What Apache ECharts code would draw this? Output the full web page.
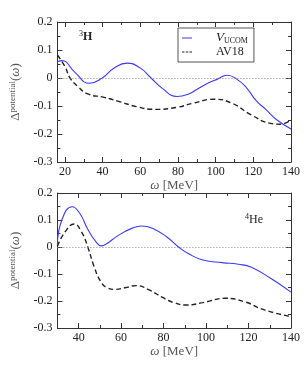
<!DOCTYPE html>
<html><head><meta charset="utf-8">
<script src="https://cdn.jsdelivr.net/npm/echarts@6/dist/echarts.min.js"></script>
<style>html,body{margin:0;padding:0;background:#fff}#c{width:304px;height:367px}</style>
</head><body><div id="c"></div>
<script>
// Top panel (3H)
const topUcomX = [16, 18.4, 25.3, 33, 39.8, 46, 53, 59.7, 65.7, 71.7, 79.5, 85.4, 90.2, 95.8, 100.9, 106.1, 111.2, 116.3, 121.5, 126.6, 132.6, 140];
const topUcomY = [0.058, 0.062, 0.020, -0.019, 0.000, 0.035, 0.053, 0.037, 0.000, -0.037, -0.066, -0.058, -0.040, -0.019, -0.004, 0.010, -0.004, -0.034, -0.081, -0.112, -0.150, -0.182];
const topAv18X = [16, 20.1, 22.7, 27, 32.1, 40.7, 49.3, 57.8, 68.1, 79.3, 88, 99.2, 108.6, 118.9, 129.2, 134.3, 140];
const topAv18Y = [0.082, 0.040, 0.000, -0.031, -0.057, -0.069, -0.085, -0.102, -0.112, -0.105, -0.090, -0.076, -0.090, -0.132, -0.162, -0.165, -0.150];
// Bottom panel (4He)
const botUcomX = [30, 32.1, 37, 40.5, 44.3, 48.1, 50.7, 52.8, 58.9, 65, 69.6, 75.6, 81.7, 87, 92, 98.5, 107.6, 115.2, 121.3, 130.4, 140];
const botUcomY = [0.007, 0.100, 0.149, 0.125, 0.066, 0.020, 0.004, 0.010, 0.044, 0.069, 0.078, 0.066, 0.036, 0.000, -0.026, -0.048, -0.058, -0.064, -0.075, -0.116, -0.167];
const botAv18X = [30, 33.7, 37.9, 41.3, 44.3, 47.3, 50.4, 53.4, 57.2, 61.8, 67.1, 73.2, 79.3, 84.8, 90.8, 98.5, 109.1, 118.2, 127.4, 140];
const botAv18Y = [0.003, 0.057, 0.085, 0.057, 0.000, -0.073, -0.128, -0.151, -0.157, -0.151, -0.143, -0.159, -0.186, -0.206, -0.215, -0.206, -0.190, -0.203, -0.233, -0.258];
const yTicks = [-0.3, -0.2, -0.1, 0, 0.1, 0.2];
const seriesNames = ['VUCOM', 'AV18'];

const pair = (xs, ys) => xs.map((x, i) => [x, ys[i]]);
const FONT = 'Liberation Serif';
const BLUE = '#3b3bf2';
const BLACK = '#222';

function xAxes(gi, min) {
  return [
    {type: 'value', gridIndex: gi, min: min, max: 140, splitNumber: 6, position: 'bottom',
     name: '{i|ω} [MeV]', nameLocation: 'middle', nameGap: 13,
     nameTextStyle: {fontFamily: FONT, fontSize: 13, color: '#555', rich: {i: {fontFamily: FONT, fontStyle: 'italic', fontSize: 13, color: '#555'}}},
     axisLine: {onZero: false, lineStyle: {color: '#333', width: 1}},
     axisTick: {inside: true, length: 5, lineStyle: {color: '#333'}},
     minorTick: {show: true, splitNumber: 2, length: 3, lineStyle: {color: '#333'}},
     axisLabel: {fontFamily: FONT, fontSize: 12, color: '#222', margin: 4,
       formatter: v => (Math.abs(v % 20) < 1e-9 ? String(v) : '')},
     splitLine: {show: false}},
    {type: 'value', gridIndex: gi, min: min, max: 140, splitNumber: 6, position: 'top',
     axisLine: {onZero: false, lineStyle: {color: '#333', width: 1}},
     axisTick: {inside: true, length: 5, lineStyle: {color: '#333'}},
     minorTick: {show: true, splitNumber: 2, length: 3, lineStyle: {color: '#333'}},
     axisLabel: {show: false}, splitLine: {show: false}}
  ];
}
function yAxes(gi) {
  return [
    {type: 'value', gridIndex: gi, min: yTicks[0], max: yTicks[yTicks.length - 1], interval: 0.1, position: 'left',
     name: '{a|Δ}{b|potential}{a|(}{i|ω}{a|)}', nameLocation: 'middle', nameGap: 32, nameRotate: 90,
     nameTextStyle: {color: '#555', rich: {
       a: {fontFamily: FONT, fontSize: 13, color: '#555'},
       i: {fontFamily: FONT, fontSize: 13, fontStyle: 'italic', color: '#555'},
       b: {fontFamily: FONT, fontSize: 9, color: '#555', padding: [0, 0, 7, 0]}}},
     axisLine: {onZero: false, lineStyle: {color: '#333', width: 1}},
     axisTick: {inside: true, length: 5, lineStyle: {color: '#333'}},
     minorTick: {show: true, splitNumber: 2, length: 3, lineStyle: {color: '#333'}},
     axisLabel: {fontFamily: FONT, fontSize: 12, color: '#222', margin: 5,
       formatter: v => (Math.abs(v) < 1e-9 ? '0' : v.toFixed(1))},
     splitLine: {show: false}},
    {type: 'value', gridIndex: gi, min: yTicks[0], max: yTicks[yTicks.length - 1], interval: 0.1, position: 'right',
     axisLine: {onZero: false, lineStyle: {color: '#333', width: 1}},
     axisTick: {inside: true, length: 5, lineStyle: {color: '#333'}},
     minorTick: {show: true, splitNumber: 2, length: 3, lineStyle: {color: '#333'}},
     axisLabel: {show: false}, splitLine: {show: false}}
  ];
}
const zeroLine = {silent: true, symbol: 'none', label: {show: false},
  lineStyle: {type: [1, 2], color: '#888', width: 1}, data: [{yAxis: 0}]};

function line(name, data, xi, yi, dashed, withZero) {
  const s = {name: name, type: 'line', xAxisIndex: xi, yAxisIndex: yi, data: data,
    smooth: 0.5, showSymbol: false, symbol: 'none',
    lineStyle: {color: dashed ? BLACK : BLUE, width: dashed ? 1.4 : 1.1, type: dashed ? [5, 3] : 'solid'},
    itemStyle: {color: dashed ? BLACK : BLUE}, z: dashed ? 3 : 4};
  if (withZero) s.markLine = zeroLine;
  return s;
}

const chart = echarts.init(document.getElementById('c'), null, {renderer: 'canvas'});
chart.setOption({
  animation: false,
  backgroundColor: '#fff',
  grid: [
    {left: 50, top: 22, width: 241, height: 140},
    {left: 50, top: 193, width: 241, height: 135}
  ],
  xAxis: [...xAxes(0, 16), ...xAxes(1, 30)],
  yAxis: [...yAxes(0), ...yAxes(1)],
  legend: {
    show: true, left: 178, top: 28, orient: 'vertical', itemWidth: 10, itemHeight: 2, itemGap: 0,
    padding: [3, 6, 3, 4], borderColor: '#555', borderWidth: 1, backgroundColor: '#fff',
    data: [
      {name: seriesNames[0], icon: 'path://M0,0H10V1H0Z'},
      {name: seriesNames[1], icon: 'path://M0,0H2.5V1H0Z M3.75,0H6.25V1H3.75Z M7.5,0H10V1H7.5Z'}
    ],
    formatter: n => n === 'VUCOM' ? '{i|V}{s|UCOM}' : '{n|' + n + '}',
    textStyle: {fontFamily: FONT, fontSize: 12, color: '#222', lineHeight: 14,
      rich: {i: {fontFamily: FONT, fontStyle: 'italic', fontSize: 13, color: '#222', padding: [0, 0, 0, 19]},
             s: {fontFamily: FONT, fontSize: 8, color: '#222', padding: [6, 0, 0, 0]},
             n: {fontFamily: FONT, fontSize: 12, color: '#222', padding: [0, 0, 0, 19]}}}
  },
  graphic: [
    {type: 'text', left: 79, top: 30, style: {text: '{s|3}{b|H}', fontFamily: FONT,
      rich: {s: {fontFamily: FONT, fontSize: 8, fill: '#222', padding: [0, 0, 6, 0]}, b: {fontFamily: FONT, fontSize: 12, fontWeight: 'bold', fill: '#222'}}}},
    {type: 'text', left: 245, top: 213, style: {text: '{s|4}{b|He}', fontFamily: FONT,
      rich: {s: {fontFamily: FONT, fontSize: 8, fill: '#222', padding: [0, 0, 6, 0]}, b: {fontFamily: FONT, fontSize: 12, fill: '#222'}}}}
  ],
  series: [
    line('VUCOM', pair(topUcomX, topUcomY), 0, 0, false, true),
    line('AV18', pair(topAv18X, topAv18Y), 0, 0, true, false),
    line('VUCOM', pair(botUcomX, botUcomY), 2, 2, false, true),
    line('AV18', pair(botAv18X, botAv18Y), 2, 2, true, false)
  ]
});
</script></body></html>
